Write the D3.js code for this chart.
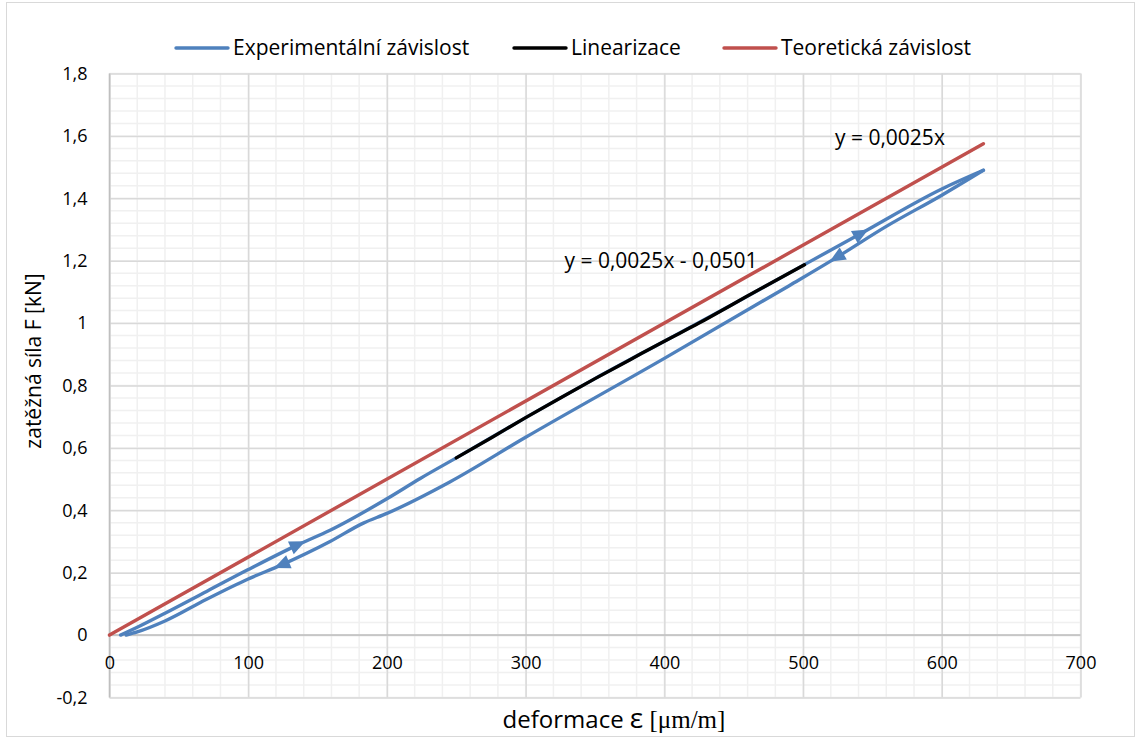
<!DOCTYPE html>
<html>
<head>
<meta charset="utf-8">
<script src="https://cdn.jsdelivr.net/npm/d3@7"></script>
<style>
  body { margin: 0; background: #fff; }
  svg { display: block; }
</style>
</head>
<body>
<div id="chart"></div>
<script>
// loading branch of the measured loop (deformation in µm/m, force in kN)
const loadX = [8, 20, 40, 70, 100, 136, 159, 200, 224, 250, 300, 350, 400, 450, 500, 542, 600, 630];
const loadF = [0.0, 0.025, 0.07, 0.14, 0.21, 0.29, 0.336, 0.437, 0.502, 0.568, 0.697, 0.822, 0.942, 1.062, 1.185, 1.288, 1.43, 1.49];

// unloading branch, back from the top
const unloadX = [630, 600, 560, 524, 490, 400, 300, 245, 200, 183, 159, 124, 100, 70, 40, 20, 12];
const unloadF = [1.49, 1.41, 1.31, 1.21, 1.12, 0.887, 0.634, 0.49, 0.39, 0.359, 0.30, 0.225, 0.18, 0.115, 0.045, 0.01, 0.0];

// measured points used for the linear fit
const linX = [250, 275, 300, 325, 350, 375, 400, 425, 450, 475, 501];
const linF = [0.568, 0.632, 0.697, 0.76, 0.822, 0.882, 0.942, 1.0, 1.062, 1.124, 1.187];

// theoretical dependence F = 0.0025 * eps
const theoryX = [0, 630];
const theoryF = [0, 1.575];

const seriesNames = ["Experimentální závislost", "Linearizace", "Teoretická závislost"];
const seriesColors = ["#4f81bd", "#000000", "#c0504d"];

const xTicks = [0, 100, 200, 300, 400, 500, 600, 700];
const yTicks = [-0.2, 0, 0.2, 0.4, 0.6, 0.8, 1, 1.2, 1.4, 1.6, 1.8];

// direction arrows on the loop: branch, position, direction
const arrows = [
  { branch: "load", x: 136, dir: 1 },
  { branch: "load", x: 542, dir: 1 },
  { branch: "unload", x: 124, dir: -1 },
  { branch: "unload", x: 524, dir: -1 }
];

const fitLabels = [
  { text: "y = 0,0025x", x: 523, f: 1.57 },
  { text: "y = 0,0025x - 0,0501", x: 328, f: 1.176 }
];

const W = 1140, H = 738;
const font = "'Open Sans', 'Noto Sans', sans-serif";

const svg = d3.select("#chart").append("svg")
  .attr("width", W).attr("height", H);

svg.append("rect")
  .attr("x", 6.5).attr("y", 2.5)
  .attr("width", W - 12).attr("height", H - 4)
  .attr("fill", "#fff").attr("stroke", "#d9d9d9");

const x = d3.scaleLinear().domain([0, 700]).range([109.5, 1080.5]);
const y = d3.scaleLinear().domain([-0.2, 1.8]).range([697.5, 73.5]);

// minor grid
const grid = svg.append("g");
grid.selectAll(".vminor")
  .data(d3.range(0, 701, 20))
  .join("line")
  .attr("x1", d => x(d)).attr("x2", d => x(d))
  .attr("y1", y(-0.2)).attr("y2", y(1.8))
  .attr("stroke", "#f0f0f0").attr("stroke-width", 1.5);
grid.selectAll(".hminor")
  .data(d3.range(-0.2, 1.801, 0.04))
  .join("line")
  .attr("x1", x(0)).attr("x2", x(700))
  .attr("y1", d => y(d)).attr("y2", d => y(d))
  .attr("stroke", "#f0f0f0").attr("stroke-width", 1.5);

// major grid
svg.append("g")
  .attr("transform", `translate(0,${y(-0.2)})`)
  .call(d3.axisBottom(x).tickValues(xTicks).tickSize(-(y(-0.2) - y(1.8))).tickFormat(""))
  .call(g => g.select(".domain").remove())
  .call(g => g.selectAll("line").attr("stroke", "#d9d9d9").attr("stroke-width", 1.5));
svg.append("g")
  .attr("transform", `translate(${x(0)},0)`)
  .call(d3.axisLeft(y).tickValues(yTicks).tickSize(-(x(700) - x(0))).tickFormat(""))
  .call(g => g.select(".domain").remove())
  .call(g => g.selectAll("line").attr("stroke", "#d9d9d9").attr("stroke-width", 1.5));

// axis lines
svg.append("line")
  .attr("x1", x(0)).attr("x2", x(700)).attr("y1", y(0)).attr("y2", y(0))
  .attr("stroke", "#bfbfbf").attr("stroke-width", 1.5);
svg.append("line")
  .attr("x1", x(0)).attr("x2", x(0)).attr("y1", y(-0.2)).attr("y2", y(1.8))
  .attr("stroke", "#bfbfbf").attr("stroke-width", 1.5);

const fmt = d => String(+d.toFixed(1)).replace(".", ",");

// tick labels
svg.append("g")
  .attr("transform", `translate(0,${y(0)})`)
  .call(d3.axisBottom(x).tickValues(xTicks).tickSize(0).tickPadding(21).tickFormat(d => d))
  .call(g => g.select(".domain").remove())
  .call(g => g.selectAll("text").attr("font-family", font).attr("font-size", 18).attr("fill", "#000"));
svg.append("g")
  .attr("transform", `translate(${x(0) - 22},0)`)
  .call(d3.axisLeft(y).tickValues(yTicks).tickSize(0).tickPadding(0).tickFormat(fmt))
  .call(g => g.select(".domain").remove())
  .call(g => g.selectAll("text").attr("font-family", font).attr("font-size", 18).attr("fill", "#000"));

const line = d3.line().x(d => x(d[0])).y(d => y(d[1])).curve(d3.curveMonotoneX);
const zip = (a, b) => a.map((v, i) => [v, b[i]]);

const plot = svg.append("g").attr("fill", "none").attr("stroke-width", 3.4)
  .attr("stroke-linejoin", "round").attr("stroke-linecap", "round");
plot.append("path").datum(zip(loadX, loadF)).attr("d", line).attr("stroke", seriesColors[0]);
plot.append("path").datum(zip(unloadX, unloadF).reverse()).attr("d", line).attr("stroke", seriesColors[0]);
plot.append("path").datum(zip(linX, linF)).attr("d", line).attr("stroke", seriesColors[1]);
plot.append("path").datum(zip(theoryX, theoryF)).attr("d", line).attr("stroke", seriesColors[2]);

// interpolate a branch at a given deformation
function interp(xs, fs, v) {
  const pts = zip(xs, fs).sort((a, b) => a[0] - b[0]);
  for (let i = 1; i < pts.length; i++) {
    if (v <= pts[i][0]) {
      const t = (v - pts[i - 1][0]) / (pts[i][0] - pts[i - 1][0]);
      return pts[i - 1][1] + t * (pts[i][1] - pts[i - 1][1]);
    }
  }
  return pts[pts.length - 1][1];
}

svg.append("g").selectAll("path")
  .data(arrows)
  .join("path")
  .attr("d", "M8,0 L-8,-7 L-8,7 Z")
  .attr("fill", seriesColors[0])
  .attr("transform", d => {
    const xs = d.branch === "load" ? loadX : unloadX;
    const fs = d.branch === "load" ? loadF : unloadF;
    const f = interp(xs, fs, d.x);
    const x2 = d.x + d.dir * 10;
    const f2 = interp(xs, fs, x2);
    const ang = Math.atan2(y(f2) - y(f), x(x2) - x(d.x)) * 180 / Math.PI;
    return `translate(${x(d.x)},${y(f)}) rotate(${ang})`;
  });

// fit equations
svg.append("g").selectAll("text")
  .data(fitLabels)
  .join("text")
  .attr("x", d => x(d.x))
  .attr("y", d => y(d.f))
  .attr("font-family", font).attr("font-size", 21)
  .text(d => d.text);

// legend
const legendX = [176, 514, 724];
const legend = svg.append("g").selectAll("g")
  .data(seriesNames)
  .join("g")
  .attr("transform", (d, i) => `translate(${legendX[i]},48)`);
legend.append("line")
  .attr("x1", 0).attr("x2", 52)
  .attr("stroke", (d, i) => seriesColors[i]).attr("stroke-width", 3.4)
  .attr("stroke-linecap", "round");
legend.append("text")
  .attr("x", 57).attr("dy", "0.35em")
  .attr("font-family", font).attr("font-size", 21)
  .text(d => d);

// axis titles
const xt = svg.append("text")
  .attr("x", 614).attr("y", 728)
  .attr("text-anchor", "middle")
  .attr("font-family", font).attr("font-size", 24);
xt.append("tspan").text("deformace ");
xt.append("tspan").attr("font-size", 28).text("ε");
xt.append("tspan").attr("font-family", "'Liberation Serif', serif").attr("font-size", 25).text(" [μm/m]");

svg.append("text")
  .attr("transform", "translate(41,361) rotate(-90)")
  .attr("text-anchor", "middle")
  .attr("font-family", font).attr("font-size", 21)
  .text("zatěžná síla F [kN]");
</script>
</body>
</html>
